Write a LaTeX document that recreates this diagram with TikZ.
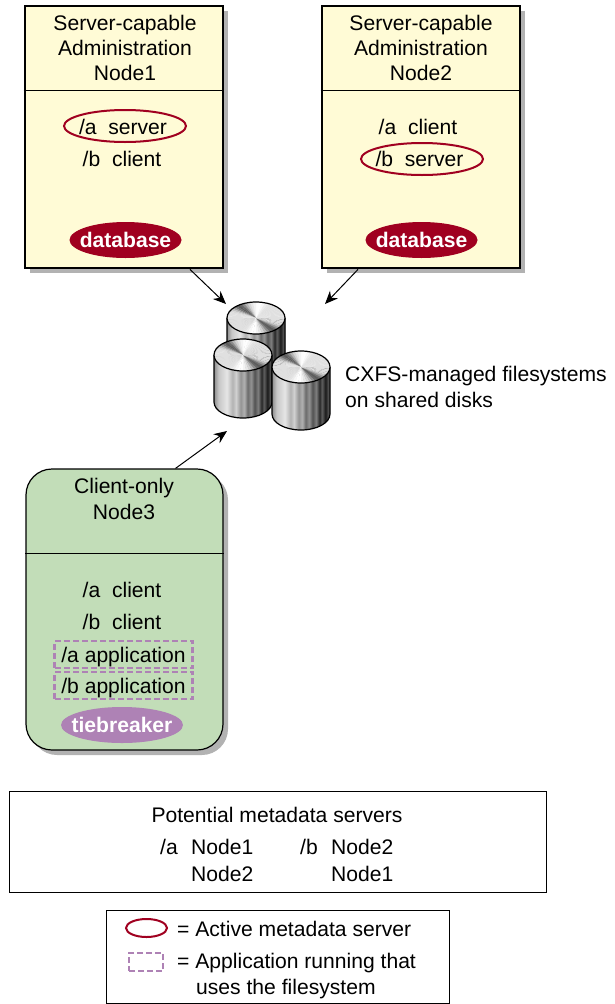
\documentclass[tikz,border=0pt]{standalone}
\usepackage{fontspec}
\setmainfont{Liberation Sans}
\usepackage{tikz}
\usetikzlibrary{arrows.meta,shapes.geometric,shadows,calc}
\definecolor{dbred}{HTML}{A00020}
\definecolor{appviolet}{HTML}{AE82B5}
\definecolor{srvyellow}{HTML}{FFFBD6}
\definecolor{cltgreen}{HTML}{C2DDB8}
\pgfdeclarehorizontalshading{diskbody}{100bp}{
	color(0bp)=(black!45);
	color(25bp)=(black!45);
	color(29bp)=(black!22);
	color(36bp)=(black!10);
	color(41bp)=(black!30);
	color(44bp)=(black!18);
	color(48bp)=(black!42);
	color(51bp)=(black!30);
	color(54bp)=(black!58);
	color(57bp)=(black!42);
	color(60bp)=(black!68);
	color(63bp)=(black!50);
	color(66bp)=(black!85);
	color(68bp)=(black!62);
	color(71bp)=(black!90);
	color(75bp)=(black!55);
	color(100bp)=(black!55)}
\newcommand{\disk}[2]
{
	\fill[shading=diskbody] (#1-29,#2) -- (#1-29,#2+47) arc[start angle=180,end angle=360,x radius=29pt,y radius=16pt] -- (#1+29,#2) -- cycle;
	\draw[diskline] (#1-29,#2) -- (#1-29,#2+47) arc[start angle=180,end angle=360,x radius=29pt,y radius=16pt] -- (#1+29,#2);
	\foreach \a in {0,6,...,354}
	{
		\pgfmathsetmacro{\tone}{12+52*max(0,cos(2*(\a-125)))^6-12*max(0,cos(2*(\a-80)))^8}
		\fill[black!\tone] (#1,#2) -- ({#1+29*cos(\a)},{#2-16*sin(\a)}) -- ({#1+29*cos(\a+6.5)},{#2-16*sin(\a+6.5)}) -- cycle;
	}
	\draw[diskline] (#1,#2) ellipse (29pt and 16pt);
}
\newcommand{\link}[2]
{
	\draw[-{Stealth[length=13pt,width=11pt]},line width=1pt] (#1) -- (#2);
}
\begin{document}
\begin{tikzpicture}[x=1pt,y=-1pt,
			diskline/.style={line width=1.2pt,draw=black},
			srv/.style={shape=rectangle,draw=black,line width=2.8pt,fill=srvyellow,
				minimum width=198pt,minimum height=262pt,inner sep=0,
				drop shadow={shadow xshift=5pt,shadow yshift=-5pt,fill=black!30,opacity=1}},
			clt/.style={shape=rectangle,rounded corners=26pt,draw=black,line width=1.2pt,fill=cltgreen,
				minimum width=197pt,minimum height=281pt,inner sep=0,
				drop shadow={shadow xshift=5pt,shadow yshift=-5pt,fill=black!30,opacity=1}},
			frame/.style={shape=rectangle,draw=black,line width=1pt,inner sep=0},
			head/.style={inner sep=0,align=center,font=\fontsize{21.1}{25.3}\selectfont},
			txt/.style={inner sep=0,text height=19pt,text depth=4pt,font=\fontsize{21.1}{25}\selectfont},
			ltxt/.style={txt,anchor=west},
			pill/.style={shape=ellipse,inner sep=0,minimum width=112pt,minimum height=36pt,fill=dbred},
			pilltxt/.style={inner sep=0,text=white,font=\fontsize{21.1}{25}\selectfont\bfseries},
			ring/.style={shape=ellipse,inner sep=0,draw=dbred,line width=2pt,minimum width=122pt,minimum height=32pt},
			app/.style={shape=rectangle,inner sep=0,draw=appviolet,line width=2.5pt,dash pattern=on 6pt off 3pt,
				minimum width=138pt,minimum height=27pt,text height=19pt,text depth=4pt,font=\fontsize{21.1}{25}\selectfont}]
			
			\useasboundingbox (0,0) rectangle (615,1004);
			
			\node[srv] at (124,137) (A){};
			\node[srv] at (421,137) (B){};
			\node[clt] at (124.5,609.5) (C){};
			
			\draw[line width=1pt] ($(A.west)+(0,-47)$) coordinate (AL) -- (AL -| A.east);
			\draw[line width=1pt] ($(B.west)+(0,-47)$) coordinate (BL) -- (BL -| B.east);
			\draw[line width=1pt] ($(C.west)+(0,-56.5)$) coordinate (CL) -- (CL -| C.east);
			
			\node[head] at (125,48) (AH){Server-capable\\Administration\\Node1};
			\node[ring] at (125,126) (AR){};
			\node[txt] at (123,127) (AS){/a\ \ server};
			\node[txt] at (122,159) (AC){/b\ \ client};
			\node[pill] at (125.5,240) (AD){};
			\node[pilltxt] at (AD) (ADT){database};
			
			\node[head] at (421,48) (BH){Server-capable\\Administration\\Node2};
			\node[txt] at (418,127) (BC){/a\ \ client};
			\node[ring] at (422,159) (BR){};
			\node[txt] at (419.5,159) (BS){/b\ \ server};
			\node[pill] at (421.5,240) (BD){};
			\node[pilltxt] at (BD) (BDT){database};
			
			\node[head] at (124,499) (CH){Client-only\\Node3};
			\node[txt] at (122,590) (CA){/a\ \ client};
			\node[txt] at (122,622) (CB){/b\ \ client};
			\node[app] at (123.5,654.5) (AppA){/a application};
			\node[app] at (123.5,685.5) (AppB){/b application};
			\node[pill,fill=appviolet,minimum width=122pt] at (122,725) (CT){};
			\node[pilltxt] at (CT) (CTT){tiebreaker};
			
			\disk{256}{318}
			\disk{243}{355}
			\disk{301}{367}
			
			\node[head,align=left,anchor=west] at (345,387) (Dk){CXFS-managed filesystems\\on shared disks};
			
			\coordinate (TailA) at ($(A.south)+(66,0)$);
			\coordinate (TailB) at ($(B.south)+(-63,0)$);
			\coordinate (TailC) at ($(C.north)+(51,0)$);
			\coordinate (HeadA) at (226,304);
			\coordinate (HeadB) at (325,304);
			\coordinate (HeadC) at (227,431);
			\link{TailA}{HeadA}
			\link{TailB}{HeadB}
			\link{TailC}{HeadC}
			
			\node[frame,minimum width=537pt,minimum height=101pt] at (277.5,841.5) (P){};
			\node[txt] at (277,815) (PT){Potential metadata servers};
			\node[ltxt] at (160,847) (PA){/a};
			\node[ltxt] at (191,847) (PA1){Node1};
			\node[ltxt] at (191,874) (PA2){Node2};
			\node[ltxt] at (300,847) (PB){/b};
			\node[ltxt] at (331,847) (PB1){Node2};
			\node[ltxt] at (331,874) (PB2){Node1};
			
			\node[frame,minimum width=343pt,minimum height=93pt] at (277.5,956.5) (L){};
			\node[ring,minimum width=41pt,minimum height=18pt] at (146.5,928) (LR){};
			\node[ltxt] at (177,929) (LRT){= Active metadata server};
			\node[app,text height=0pt,text depth=0pt,minimum width=34pt,minimum height=18pt] at (146,962) (LD){};
			\node[ltxt] at (177,961) (LDT){= Application running that};
			\node[ltxt] at (196,987) (LDU){uses the filesystem};
		\end{tikzpicture}
\end{document}
